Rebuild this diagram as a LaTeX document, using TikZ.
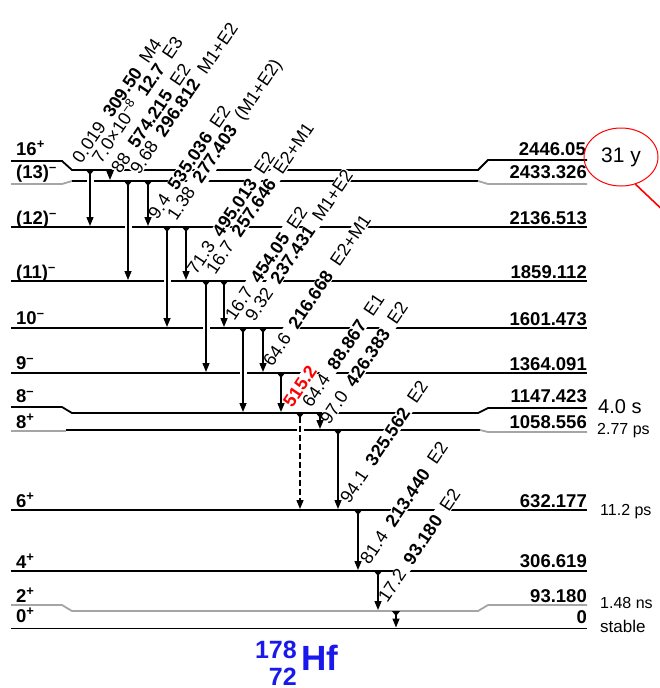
\documentclass[tikz,border=0pt]{standalone}
\usepackage{fontspec}
\setmainfont{Liberation Sans}
\usetikzlibrary{arrows.meta,shapes.geometric}
\definecolor{nucblue}{RGB}{25,25,235}
\definecolor{lvlgray}{RGB}{165,165,165}
\tikzset{
  lvl/.style={line width=1.8pt, black},
  lvlg/.style={line width=1.8pt, lvlgray},
  gam/.style={line width=1.4pt, {Triangle[reversed,width=8pt,length=5pt]}-{Triangle[width=7pt,length=9pt]}},
  knock/.style={white, line width=7pt},
  glab/.style={anchor=base west, rotate=56, fill=white, inner sep=0.6pt, font=\fontsize{18}{18}\selectfont},
  jp/.style={anchor=base west, inner sep=0pt, font=\bfseries\fontsize{18.5}{18}\selectfont},
  enlab/.style={anchor=base east, inner sep=0pt, font=\bfseries\fontsize{18.5}{18}\selectfont},
  hlab/.style={anchor=base west, inner sep=0pt, font=\fontsize{16}{16}\selectfont},
}
\newcommand{\gsp}{\hspace{0.55em}}
\begin{document}
\begin{tikzpicture}[x=1pt,y=-1pt]
\useasboundingbox[fill=white] (0,0) rectangle (660,688);
% ---------------- levels
\draw[lvl] (11,161) -- (62,161) -- (72,170) -- (478,170) -- (488,160) -- (587,160);
\draw[lvlg] (11,184) -- (62,184) -- (72,181);
\draw[lvl] (72,181) -- (478,181);
\draw[lvlg] (478,181) -- (488,184) -- (587,184);
\draw[lvl] (11,227) -- (587,227);
\draw[lvl] (11,281) -- (587,281);
\draw[lvl] (11,328) -- (587,328);
\draw[lvl] (11,373) -- (587,373);
\draw[lvl] (11,407) -- (62,407) -- (72,413) -- (478,413) -- (488,408) -- (587,408);
\draw[lvlg] (11,431) -- (66,431);
\draw[lvl] (66,430) -- (480,430);
\draw[lvlg] (480,430) -- (488,432) -- (587,432);
\draw[lvl] (11,510) -- (587,510);
\draw[lvl] (11,571) -- (587,571);
\draw[lvlg] (11,605) -- (62,605) -- (72,611) -- (478,611) -- (488,605) -- (587,605);
\draw[lvl] (11,628.5) -- (587,628.5);
% ---------------- gamma end points
\foreach \n/\x/\ys/\ye in {1/90/170/227, 2/110/170/181, 3/128/181/281, 4/148/181/227,
  5/167/227/328, 6/186/227/281, 7/206/281/373, 8/224/281/328, 9/243/328/413,
  10/263/328/373, 11/281/373/413, 12/300/413/510, 13/320/413/430, 14/338/430/510,
  15/358/510/571, 16/378/571/611, 17/396/611/628.5}{
  \coordinate (s\n) at (\x,\ys);
  \coordinate (e\n) at (\x,\ye-1);
  \coordinate (ks\n) at (\x,\ys+4);
  \coordinate (ke\n) at (\x,\ye-5);
}
% knock-outs where gammas cross levels
\foreach \n in {1,3,5,7,9,12}{\draw[knock] (ks\n) -- (ke\n);}
% ---------------- level labels
\node[jp] (j16) at (16,155) {16\textsuperscript{+}};
\node[jp] (j13) at (16,178) {(13)\textsuperscript{–}};
\node[jp] (j12) at (16,224) {(12)\textsuperscript{–}};
\node[jp] (j11) at (16,278) {(11)\textsuperscript{–}};
\node[jp] (j10) at (16,324) {10\textsuperscript{–}};
\node[jp] (j9) at (16,369) {9\textsuperscript{–}};
\node[jp] (j8m) at (16,402) {8\textsuperscript{–}};
\node[jp] (j8p) at (16,428) {8\textsuperscript{+}};
\node[jp] (j6) at (16,507) {6\textsuperscript{+}};
\node[jp] (j4) at (16,568) {4\textsuperscript{+}};
\node[jp] (j2) at (16,602) {2\textsuperscript{+}};
\node[jp] (j0) at (16,622) {0\textsuperscript{+}};
\node[enlab] (E16) at (586,155) {2446.05};
\node[enlab] (E13) at (587,178) {2433.326};
\node[enlab] (E12) at (587,224) {2136.513};
\node[enlab] (E11) at (587,278) {1859.112};
\node[enlab] (E10) at (587,325) {1601.473};
\node[enlab] (E9) at (587,370) {1364.091};
\node[enlab] (E8m) at (587,402) {1147.423};
\node[enlab] (E8p) at (587,428) {1058.556};
\node[enlab] (E6) at (587,507) {632.177};
\node[enlab] (E4) at (587,567) {306.619};
\node[enlab] (E2) at (587,602) {93.180};
\node[enlab] (E0) at (587,623) {0};
% ---------------- half-lives
\node[ellipse, draw=red, line width=1pt, minimum width=74pt, minimum height=58pt, inner sep=0pt,
      font=\fontsize{21}{21}\selectfont] (T16) at (621,157) {31 y};
\coordinate (Tend) at (670,217);
\draw[red, line width=1.6pt] (T16.-62) -- (Tend);
\node[anchor=base west, inner sep=0pt, font=\fontsize{20}{20}\selectfont] (T8m) at (598,413) {4.0 s};
\node[hlab] (T8p) at (597,434) {2.77 ps};
\node[hlab] (T6) at (600,515) {11.2 ps};
\node[hlab] (T2) at (600,608) {1.48 ns};
\node[anchor=base west, inner sep=0pt, font=\fontsize{17}{17}\selectfont] (T0) at (600,632) {stable};
% ---------------- gamma labels
\node[glab] (g1) at (81,165) {0.019\gsp\textbf{309.50}\gsp M4};
\node[glab] (g2) at (101,165) {7.0×10\textsuperscript{−8}\gsp\textbf{12.7}\gsp E3};
\node[glab] (g3) at (120,175) {88\gsp\textbf{574.215}\gsp E2};
\node[glab] (g4) at (139,176) {9.68\gsp\textbf{296.812}\gsp M1+E2};
\node[glab] (g5) at (157,221) {9.4\gsp\textbf{535.036}\gsp E2};
\node[glab] (g6) at (176,222) {1.38\gsp\textbf{277.403}\gsp (M1+E2)};
\node[glab] (g7) at (196,276) {71.3\gsp\textbf{495.013}\gsp E2};
\node[glab] (g8) at (215,276) {16.7\gsp\textbf{257.646}\gsp E2+M1};
\node[glab] (g9) at (234,322) {16.7\gsp\textbf{454.05}\gsp E2};
\node[glab] (g10) at (254,323) {9.32\gsp\textbf{237.431}\gsp M1+E2};
\node[glab] (g11) at (272,368) {64.6\gsp\textbf{216.668}\gsp E2+M1};
\node[glab, text=red] (g12) at (292,409) {\textbf{515.2}};
\node[glab] (g13) at (311,409) {64.4\gsp\textbf{88.867}\gsp E1};
\node[glab] (g14) at (329,426) {97.0\gsp\textbf{426.383}\gsp E2};
\node[glab] (g15) at (349,505) {94.1\gsp\textbf{325.562}\gsp E2};
\node[glab] (g16) at (369,566) {81.4\gsp\textbf{213.440}\gsp E2};
\node[glab] (g17) at (387,604) {17.2\gsp\textbf{93.180}\gsp E2};
% ---------------- gammas
\foreach \n in {1,2,3,4,5,6,7,8,9,10,11,13,14,15,16,17}{\draw[gam] (s\n) -- (e\n);}
\draw[gam, dash pattern=on 6pt off 3pt] (s12) -- (e12);
% ---------------- nuclide
\node[anchor=base east, inner sep=0pt, text=nucblue, font=\bfseries\fontsize{25}{25}\selectfont] (mass) at (297,658) {178};
\node[anchor=base east, inner sep=0pt, text=nucblue, font=\bfseries\fontsize{25}{25}\selectfont] (znum) at (297,685) {72};
\node[anchor=base west, inner sep=0pt, text=nucblue, font=\bfseries\fontsize{35}{35}\selectfont] (elem) at (301,670) {Hf};
\end{tikzpicture}
\end{document}
